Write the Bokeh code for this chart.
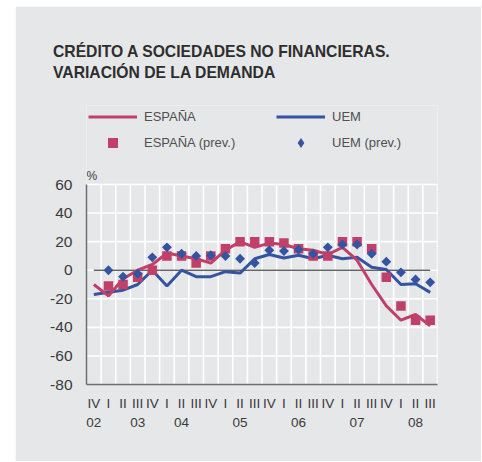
import math
from bokeh.plotting import figure
from bokeh.models import (Range1d, FixedTicker, LinearAxis, Label, Legend, LegendItem,
                          ColumnDataSource, Title)
from bokeh.embed import file_html
from bokeh.resources import INLINE

NaN = float("nan")

quarters = ["IV", "I", "II", "III", "IV", "I", "II", "III", "IV", "I", "II", "III",
            "IV", "I", "II", "III", "IV", "I", "II", "III", "IV", "I", "II", "III"]
year_labels = ["02", "03", "04", "05", "06", "07", "08"]
year_label_pos = [0, 3, 6, 10, 14, 18, 22]

espana = [-10, -18, -6, 0, 4, 12, 10, 8, 5, 14, 20, 16, 19, 18, 15, 14, 11, 16, 7, -10,
          -25, -35, -31, -39]
uem = [-17, -15.5, -14, -10, 0, -11, 0, -4.5, -4.5, -1, -2, 8, 11, 8.5, 10.5, 8, 10.5, 8,
       9, 2, 0.5, -10, -9.5, -15.5]
espana_prev = [NaN, -11, -10, -5, 0, 10, 10, 5, 10, 15, 20, 20, 20, 19, 15, 10, 10, 20, 20,
               15, -5, -25, -35, -35]
uem_prev = [NaN, 0, -4.5, -2.5, 9, 16, 11.5, 10, 10.5, 10, 8, 5, 14, 13.5, 14.5, 11.5, 16,
            18, 18, 11.5, 6, -1.5, -6.5, -8.5]

y_ticks = [-80, -60, -40, -20, 0, 20, 40, 60]
title_lines = ["CRÉDITO A SOCIEDADES NO FINANCIERAS.", "VARIACIÓN DE LA DEMANDA"]
series_names = ["ESPAÑA", "UEM", "ESPAÑA (prev.)", "UEM (prev.)"]

RED = "#c0406a"
BLUE = "#3453a0"
BG = "#e6e7e9"
FONT = "Liberation Sans"
TXT = "#3a3a3a"

n = len(quarters)
xs = list(range(n))

# geometry
FRAME_W, FRAME_H = 351, 279
ymin, ymax = y_ticks[0], y_ticks[-1]
px_per_unit = 200 / (ymax - ymin)
y_top = ymax + (FRAME_H - 200) / px_per_unit

p = figure(width=466, height=455, output_backend="svg", toolbar_location=None,
           x_range=Range1d(-0.5, n - 0.5), y_range=Range1d(ymin, y_top),
           min_border_left=71, min_border_right=44, min_border_top=99, min_border_bottom=77,
           background_fill_color=BG, border_fill_color=BG, outline_line_color=None,
           x_axis_location=None, y_axis_location=None)
p.margin = (6, 0, 0, 15)

p.xgrid.visible = False
p.ygrid.visible = False

# horizontal grid
p.segment(x0=[-0.5] * len(y_ticks), x1=[n - 0.5] * len(y_ticks), y0=y_ticks, y1=y_ticks,
          line_color="white", line_width=1.6)
# vertical grid at band boundaries
bx = [i + 0.5 for i in range(n)]
p.segment(x0=bx, x1=bx, y0=[ymin] * n, y1=[ymax] * n, line_color="white", line_width=1.6)

# zero line
p.segment(x0=[0], x1=[n - 1], y0=[0], y1=[0], line_color="#222222", line_width=1)

src = ColumnDataSource(dict(x=xs, espana=espana, uem=uem, ep=espana_prev, up=uem_prev))

r_uem = p.line("x", "uem", source=src, line_color=BLUE, line_width=3)
r_esp = p.line("x", "espana", source=src, line_color=RED, line_width=3)
r_ep = p.scatter("x", "ep", source=src, marker="square", size=9.5, fill_color=RED,
                 line_color=None)
r_up = p.scatter("x", "up", source=src, marker="square", angle=math.pi / 4, size=7,
                 fill_color=BLUE, line_color=None)
# legend swatch for the diamond series (no visible marks)
r_up_key = p.scatter(x=[NaN], y=[NaN], marker="diamond", size=10, fill_color=BLUE,
                     line_color=None)

# axes
yaxis = LinearAxis(ticker=FixedTicker(ticks=y_ticks), bounds=(ymin, ymax),
                   major_label_overrides={v: str(v) for v in y_ticks})
yaxis.axis_line_color = "#6e6e6e"
yaxis.axis_line_width = 1.5
yaxis.major_tick_line_color = None
yaxis.minor_tick_line_color = None
yaxis.major_label_standoff = 8
yaxis.major_label_text_font = FONT
yaxis.major_label_text_font_size = "15.5px"
yaxis.major_label_text_color = TXT
p.add_layout(yaxis, "left")

xaxis = LinearAxis(ticker=FixedTicker(ticks=xs),
                   major_label_overrides={i: q for i, q in enumerate(quarters)})
xaxis.axis_line_color = "#6e6e6e"
xaxis.axis_line_width = 1.5
xaxis.major_tick_line_color = None
xaxis.minor_tick_line_color = None
xaxis.major_label_standoff = 5
xaxis.major_label_text_font = FONT
xaxis.major_label_text_font_size = "13.5px"
xaxis.major_label_text_color = TXT
p.add_layout(xaxis, "below")

yraxis = LinearAxis(ticker=FixedTicker(ticks=year_label_pos),
                    major_label_overrides={pos: lab for pos, lab in zip(year_label_pos, year_labels)})
yraxis.axis_line_color = None
yraxis.major_tick_line_color = None
yraxis.minor_tick_line_color = None
yraxis.major_label_standoff = -2
yraxis.major_label_text_font = FONT
yraxis.major_label_text_font_size = "13.5px"
yraxis.major_label_text_color = TXT
p.add_layout(yraxis, "below")

# two-line title
p.add_layout(Title(text="\n".join(title_lines), align="left", offset=-33.5, standoff=49,
                   text_font=FONT, text_font_size="15.7px", text_font_style="bold",
                   text_line_height=1.22, text_color="#2e2e2e"), "above")

p.add_layout(Label(x=-0.5, y=ymax + 9 / px_per_unit, text="%", text_font=FONT,
                   text_font_size="12px", text_color=TXT, text_baseline="alphabetic"))

legend = Legend(items=[LegendItem(label=series_names[0], renderers=[r_esp]),
                       LegendItem(label=series_names[1], renderers=[r_uem]),
                       LegendItem(label=series_names[2], renderers=[r_ep]),
                       LegendItem(label=series_names[3], renderers=[r_up_key])],
                orientation="horizontal", ncols=2,
                location=(2, 229), padding=0, margin=0, spacing=1,
                glyph_width=49, glyph_height=25, label_height=25, label_width=131,
                label_standoff=7, border_line_color=None, background_fill_alpha=0,
                label_text_font=FONT, label_text_font_size="13px",
                label_text_color="#505050")
p.add_layout(legend, "center")

open("out.html", "w").write(file_html(p, INLINE))
